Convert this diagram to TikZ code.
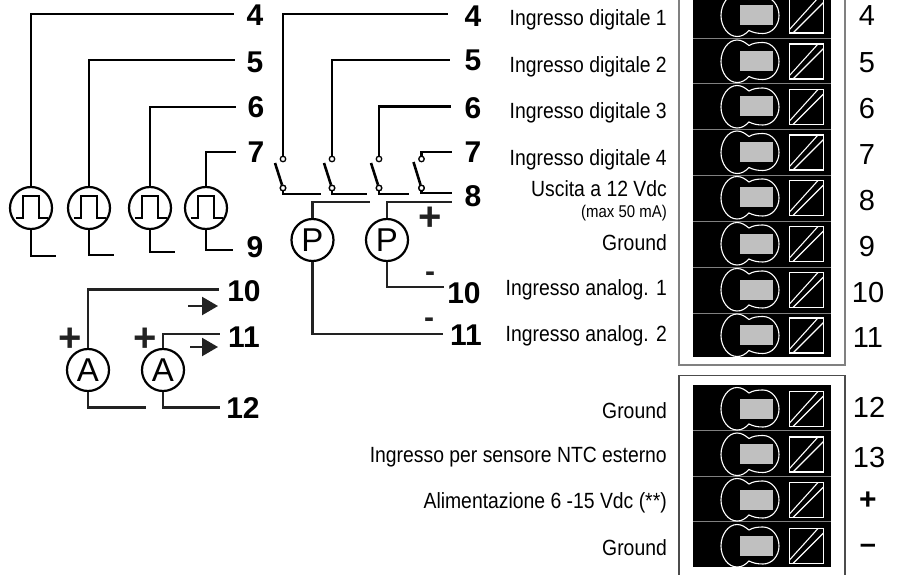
\documentclass[tikz,border=0pt]{standalone}
\usepackage{fontspec}
\setmainfont{Liberation Sans}
\newfontfamily\narrowf[FakeStretch=0.88]{Liberation Sans}
\usetikzlibrary{arrows.meta}
\definecolor{wiredark}{HTML}{222222}
\definecolor{boxgrey}{HTML}{808080}
\definecolor{slotgrey}{HTML}{C0C0C0}
\tikzset{
  wire/.style={line width=2.6pt,black},
  dwire/.style={line width=2.6pt,wiredark},
  meter/.style={circle,draw=black,line width=2.2pt,minimum size=42pt,inner sep=0pt,font=\fontsize{33}{33}\selectfont},
  contact/.style={circle,draw=black,fill=white,line width=1.3pt,minimum size=5.5pt,inner sep=0pt},
  pinbold/.style={anchor=base,inner sep=0pt,font=\fontsize{30}{30}\selectfont\bfseries},
  pinreg/.style={anchor=base,inner sep=0pt,font=\fontsize{29}{29}\selectfont},
  pinminus/.style={anchor=base,inner sep=0pt,font=\fontsize{29}{29}\selectfont\bfseries},
  desc/.style={anchor=base east,inner sep=0pt,font=\fontsize{22}{22}\narrowf},
  descsmall/.style={anchor=base east,inner sep=0pt,font=\fontsize{17}{17}\narrowf},
  sign/.style={inner sep=0pt,text=wiredark,font=\fontsize{40}{40}\selectfont\bfseries},
  arrowmark/.style={line width=2.2pt,wiredark,-{Triangle[length=16pt,width=18pt]}},
  termline/.style={white,line width=1.1pt},
  sepline/.style={boxgrey,line width=0.8pt},
  framebox/.style={boxgrey,line width=1.5pt}
}
\newcommand{\termrow}[1]{%
  \begin{scope}[shift={(0,#1)}]
    \fill[slotgrey] (740,-10.5) rectangle (773,9.5);
    \draw[termline] (749,-16) .. controls (753,-18.5) and (758,-19) .. (763,-19)
      .. controls (772,-19) and (779,-10) .. (779,0)
      .. controls (779,10) and (772,18) .. (763,18)
      .. controls (757,18) and (753,17) .. (749,15)
      .. controls (745,19) and (742,21) .. (737,21)
      .. controls (728,21) and (721,11) .. (721,0)
      .. controls (721,-11) and (728,-21.5) .. (737,-21.5)
      .. controls (742,-21.5) and (745,-19) .. (749,-16) -- cycle;
    \draw[termline,line width=1.2pt] (789.5,-17.5) rectangle (823.5,17.5);
    \draw[termline] (789.5,14) -- (818,-17.5);
    \draw[termline] (793,17.5) -- (823.5,-13);
  \end{scope}}
\newcommand{\pulseshape}[1]{%
  \draw[line width=2pt,black] ([shift={(-15pt,-10pt)}]#1.center) -- ++(7,0) -- ++(0,-22) -- ++(16,0) -- ++(0,22) -- ++(9,0);}
\begin{document}
\begin{tikzpicture}[x=1pt,y=-1pt]
\useasboundingbox (0,0) rectangle (903,575);
% --- terminal blocks
\draw[framebox] (679,0) -- (679,365) -- (845,365) -- (845,0);
\draw[framebox,draw=black!70,line width=1.2pt] (679,575) -- (679,375.5) -- (845,375.5) -- (845,575);
\fill[black] (693,0) rectangle (831,357);
\fill[black] (693,385) rectangle (831,567);
\foreach \s in {38.5,83.5,129.5,175.5,221,267,313}{\draw[sepline] (693,\s) -- (831,\s);}
\foreach \s in {430,476,521.5}{\draw[sepline] (693,\s) -- (831,\s);}
\foreach \c in {15.5,61.5,107,152.5,198,244,290,335.5,409,454.5,500,546}{\termrow{\c}}
% --- left pin labels
\node[pinbold] (la4) at (255,26) {4};
\node[pinbold] (la5) at (255,73) {5};
\node[pinbold] (la6) at (256,118) {6};
\node[pinbold] (la7) at (256,163) {7};
\node[pinbold] (la9) at (255,258) {9};
\node[pinbold] (la10) at (244,301) {10};
\node[pinbold] (la11) at (244,347) {11};
\node[pinbold] (la12) at (243,418) {12};
% --- middle pin labels
\node[pinbold] (lb4) at (473,27) {4};
\node[pinbold] (lb5) at (473,71) {5};
\node[pinbold] (lb6) at (473,119) {6};
\node[pinbold] (lb7) at (473,163) {7};
\node[pinbold] (lb8) at (473,207) {8};
\node[pinbold] (lb10) at (464,303) {10};
\node[pinbold] (lb11) at (466,345) {11};
% --- right pin numbers
\node[pinreg] (r4) at (867,26) {4};
\node[pinreg] (r5) at (867,73) {5};
\node[pinreg] (r6) at (867,119) {6};
\node[pinreg] (r7) at (867,165) {7};
\node[pinreg] (r8) at (867,211) {8};
\node[pinreg] (r9) at (867,256) {9};
\node[pinreg] (r10) at (868,302) {10};
\node[pinreg] (r11) at (868,347) {11};
\node[pinreg] (r12) at (869,417) {12};
\node[pinreg] (r13) at (869,467) {13};
\node[pinbold] (rp) at (868,509) {+};
\node[pinminus] (rm) at (868,553) {–};
% --- descriptions
\node[desc] (d1) at (667,26) {Ingresso digitale 1};
\node[desc] (d2) at (667,72.7) {Ingresso digitale 2};
\node[desc] (d3) at (667,119) {Ingresso digitale 3};
\node[desc] (d4) at (667,166) {Ingresso digitale 4};
\node[desc] (d5) at (667,196.7) {Uscita a 12 Vdc};
\node[descsmall] (d5b) at (667,218) {(max 50 mA)};
\node[desc] (d6) at (667,251) {Ground};
\node[desc] (d7) at (667,295) {Ingresso analog. 1};
\node[desc] (d8) at (667,341.7) {Ingresso analog. 2};
\node[desc] (d9) at (667,418) {Ground};
\node[desc] (d10) at (667,462) {Ingresso per sensore NTC esterno};
\node[desc] (d11) at (667,508) {Alimentazione 6 -15 Vdc (**)};
\node[desc] (d12) at (667,555) {Ground};
% --- pulse meters
\node[meter] (p1) at (31,208) {};
\node[meter] (p2) at (89,208) {};
\node[meter] (p3) at (150,208) {};
\node[meter] (p4) at (206,208) {};
\foreach \n in {p1,p2,p3,p4}{\pulseshape{\n}}
\coordinate (e4) at (234,14);
\coordinate (e5) at (235,60);
\coordinate (e6) at (236,107);
\coordinate (e7) at (236,152);
\coordinate (g1) at (56,256);
\coordinate (g2) at (114,255);
\coordinate (g3) at (175,252);
\coordinate (g4) at (233,250);
\draw[wire] (p1.north) |- (e4);
\draw[wire] (p2.north) |- (e5);
\draw[wire] (p3.north) |- (e6);
\draw[wire] (p4.north) |- (e7);
\draw[wire] (p1.south) |- (g1);
\draw[wire] (p2.south) |- (g2);
\draw[wire] (p3.south) |- (g3);
\draw[wire] (p4.south) |- (g4);
% --- switches
\node[contact] (u1) at (283,159) {};
\node[contact] (u2) at (332,159) {};
\node[contact] (u3) at (379,159) {};
\node[contact] (u4) at (421.5,159) {};
\node[contact] (v1) at (283,188) {};
\node[contact] (v2) at (332,188) {};
\node[contact] (v3) at (379,188) {};
\node[contact] (v4) at (421.5,188) {};
\coordinate (f4) at (448,14);
\coordinate (f5) at (450,60);
\coordinate (f6) at (451,106.5);
\coordinate (f7) at (452,152);
\draw[wire] (u1.north) |- (f4);
\draw[wire] (u2.north) |- (f5);
\draw[wire] (u3.north) |- (f6);
\draw[wire] (u4.north) |- (f7);
\coordinate (h1) at (321,194);
\coordinate (h2) at (367,194);
\coordinate (h3) at (409,194);
\coordinate (h4) at (452,193);
\draw[wire] (v1.south) |- (h1);
\draw[wire] (v2.south) |- (h2);
\draw[wire] (v3.south) |- (h3);
\draw[wire] (v4.south) |- (h4);
\coordinate (a1) at (275,163);
\coordinate (a2) at (324,163);
\coordinate (a3) at (371,163);
\coordinate (a4) at (413.5,162);
\draw[wire] (a1) -- (v1);
\draw[wire] (a2) -- (v2);
\draw[wire] (a3) -- (v3);
\draw[wire] (a4) -- (v4);
\foreach \n in {v1,v2,v3,v4}{\node[contact] at (\n) {};}
% --- pressure sensors
\node[meter] (s1) at (312.5,240) {P};
\node[meter] (s2) at (387,240) {P};
\coordinate (k1) at (370,202);
\coordinate (k2) at (452,202);
\coordinate (m2) at (444,287);
\coordinate (m1) at (443,334);
\draw[dwire] (s1.north) |- (k1);
\draw[dwire] (s2.north) |- (k2);
\draw[dwire] (s2.south) |- (m2);
\draw[dwire] (s1.south) |- (m1);
\node[sign] (sp) at (430,219) {+};
\node[sign,font=\fontsize{30}{30}\selectfont\bfseries] (sm1) at (430,277) {-};
\node[sign,font=\fontsize{30}{30}\selectfont\bfseries] (sm2) at (429,323) {-};
% --- ammeters
\node[meter] (m3) at (88,370) {A};
\node[meter] (m4) at (163,370) {A};
\coordinate (n1) at (219,289.5);
\coordinate (n2) at (220,334);
\coordinate (n3) at (146,407.5);
\coordinate (n4) at (220,407.5);
\draw[dwire] (m3.north) |- (n1);
\draw[dwire] (m4.north) |- (n2);
\draw[dwire] (m3.south) |- (n3);
\draw[dwire] (m4.south) |- (n4);
\node[sign] (ap1) at (70,340) {+};
\node[sign] (ap2) at (145,340) {+};
\coordinate (t1) at (188,306);
\coordinate (t2) at (218,306);
\coordinate (t3) at (190,347);
\coordinate (t4) at (218,347);
\draw[arrowmark] (t1) -- (t2);
\draw[arrowmark] (t3) -- (t4);
\end{tikzpicture}
\end{document}
